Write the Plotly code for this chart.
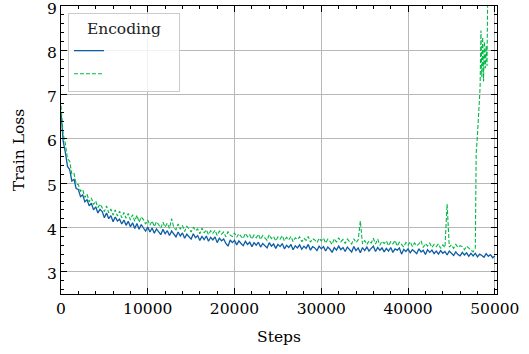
import plotly.graph_objects as go

# ---- data ----
blue_steps = list(range(0, 50001, 250))
blue_loss = [
    6.60, 5.95, 5.70, 5.38, 5.31, 5.05, 5.09, 4.88, 4.86, 4.70,
    4.74, 4.58, 4.63, 4.49, 4.55, 4.40, 4.47, 4.33, 4.41, 4.36,
    4.22, 4.33, 4.20, 4.27, 4.13, 4.24, 4.15, 4.19, 4.08, 4.17,
    4.05, 4.14, 4.02, 4.11, 3.98, 4.09, 3.96, 4.07, 3.99, 3.92,
    4.01, 3.90, 3.99, 3.87, 3.97, 3.91, 3.84, 3.96, 3.86, 3.93,
    3.82, 3.92, 3.85, 3.79, 3.90, 3.81, 3.88, 3.76, 3.85, 3.80,
    3.74, 3.86, 3.77, 3.82, 3.71, 3.80, 3.73, 3.81, 3.69, 3.78,
    3.72, 3.79, 3.66, 3.76, 3.70, 3.74, 3.64, 3.58, 3.72, 3.66,
    3.71, 3.61, 3.70, 3.64, 3.59, 3.69, 3.62, 3.67, 3.57, 3.66,
    3.60, 3.67, 3.56, 3.64, 3.59, 3.54, 3.66, 3.58, 3.63, 3.53,
    3.62, 3.57, 3.64, 3.52, 3.60, 3.55, 3.62, 3.50, 3.59, 3.54,
    3.61, 3.51, 3.58, 3.53, 3.62, 3.49, 3.57, 3.54, 3.48, 3.58,
    3.52, 3.57, 3.47, 3.56, 3.51, 3.44, 3.55, 3.49, 3.58, 3.50,
    3.55, 3.46, 3.56, 3.50, 3.45, 3.57, 3.48, 3.54, 3.43, 3.55,
    3.48, 3.56, 3.47, 3.53, 3.58, 3.46, 3.55, 3.49, 3.54, 3.45,
    3.53, 3.47, 3.55, 3.44, 3.52, 3.49, 3.54, 3.40, 3.51, 3.46,
    3.52, 3.43, 3.50, 3.46, 3.41, 3.52, 3.45, 3.49, 3.39, 3.50,
    3.44, 3.49, 3.41, 3.47, 3.40, 3.48, 3.42, 3.46, 3.38, 3.47,
    3.42, 3.37, 3.45, 3.39, 3.36, 3.44, 3.38, 3.43, 3.35, 3.42,
    3.36, 3.42, 3.34, 3.40, 3.37, 3.33, 3.41, 3.35, 3.39, 3.32,
    3.36,
]

green_steps = list(range(0, 47751, 250)) + [
    47850, 48000, 48150, 48300, 48400, 48500, 48600, 48700,
    48800, 48900, 49000, 49100, 49200,
]
green_loss = [
    6.75, 6.10, 5.90, 5.55, 5.50, 5.20, 5.22, 4.98, 4.97, 4.82,
    4.86, 4.68, 4.76, 4.58, 4.67, 4.52, 4.60, 4.45, 4.53, 4.44,
    4.36, 4.49, 4.33, 4.42, 4.28, 4.40, 4.26, 4.37, 4.22, 4.34,
    4.21, 4.32, 4.17, 4.29, 4.14, 4.28, 4.12, 4.24, 4.18, 4.08,
    4.17, 4.05, 4.15, 4.02, 4.13, 4.07, 3.99, 4.12, 4.01, 4.10,
    3.98, 4.20, 4.00, 3.95, 4.08, 3.96, 4.05, 3.91, 4.03, 3.97,
    3.90, 4.01, 3.93, 3.97, 3.86, 3.99, 3.88, 3.95, 3.84, 3.93,
    3.87, 3.94, 3.82, 3.92, 3.85, 3.90, 3.79, 3.91, 3.83, 3.80,
    3.88, 3.78, 3.86, 3.80, 3.75, 3.87, 3.79, 3.84, 3.74, 3.83,
    3.77, 3.85, 3.73, 3.82, 3.76, 3.71, 3.84, 3.75, 3.80, 3.70,
    3.79, 3.74, 3.82, 3.70, 3.78, 3.72, 3.80, 3.68, 3.77, 3.73,
    3.79, 3.68, 3.76, 3.71, 3.80, 3.67, 3.75, 3.72, 3.66, 3.76,
    3.70, 3.76, 3.65, 3.74, 3.69, 3.62, 3.75, 3.67, 3.77, 3.68,
    3.73, 3.64, 3.74, 3.68, 3.63, 3.75, 3.66, 3.72, 4.15, 3.63,
    3.71, 3.62, 3.70, 3.65, 3.76, 3.63, 3.74, 3.60, 3.69, 3.64,
    3.70, 3.59, 3.68, 3.63, 3.71, 3.58, 3.67, 3.62, 3.56, 3.66,
    3.60, 3.68, 3.57, 3.65, 3.59, 3.63, 3.70, 3.55, 3.64, 3.58,
    3.65, 3.55, 3.62, 3.57, 3.63, 3.53, 3.61, 3.55, 4.53, 3.56,
    3.61, 3.53, 3.62, 3.55, 3.59, 3.57, 3.50, 3.58, 3.54, 3.48,
    3.45, 3.53,
    5.68, 6.10, 6.60, 7.15, 8.45, 7.40, 8.30, 7.30, 8.20, 7.60,
    8.10, 7.65, 9.80,
]

x_ticks = [0, 10000, 20000, 30000, 40000, 50000]
y_ticks = [3, 4, 5, 6, 7, 8, 9]

BLUE = "#0C5DA5"
GREEN = "#00B945"
FONT = "DejaVu Serif, Liberation Serif, serif"
FS = 15.5

fig = go.Figure()
fig.add_trace(go.Scatter(
    x=blue_steps, y=blue_loss, mode="lines",
    line=dict(color=BLUE, width=1.3),
    name="\u00a0" * 13,
))
fig.add_trace(go.Scatter(
    x=green_steps, y=green_loss, mode="lines",
    line=dict(color=GREEN, width=1.1, dash="4px,2px"),
    name="\u00a0" * 13,
))

axis_common = dict(
    showline=True, linecolor="black", linewidth=1, mirror="allticks",
    ticks="inside", ticklen=6, tickwidth=1, tickcolor="black",
    showgrid=True, gridcolor="#b8b8b8", gridwidth=1,
    zeroline=False, automargin=False, ticklabeloverflow="allow",
    tickfont=dict(family=FONT, size=FS, color="black"),
)

fig.update_xaxes(
    range=[0, 50250], tickvals=x_ticks, tickformat="d",
    minor=dict(dtick=2000, tick0=0, ticks="inside", ticklen=3,
               tickcolor="black", tickwidth=1, showgrid=False),
    title=dict(text="Steps", font=dict(family=FONT, size=FS, color="black"),
               standoff=14),
    **axis_common,
)
fig.update_yaxes(
    range=[2.5, 9.003], tickvals=y_ticks, ticklabelshift=2,
    minor=dict(dtick=0.2, tick0=0, ticks="inside", ticklen=3,
               tickcolor="black", tickwidth=1, showgrid=False),
    title=dict(text="Train Loss", font=dict(family=FONT, size=FS, color="black"),
               standoff=18),
    **axis_common,
)

fig.update_layout(
    width=529, height=354,
    margin=dict(l=61, r=32, t=6, b=60, autoexpand=False),
    plot_bgcolor="white", paper_bgcolor="white",
    font=dict(family=FONT, size=FS, color="black"),
    showlegend=True,
    legend=dict(
        x=0.016, y=0.976, xanchor="left", yanchor="top",
        bgcolor="rgba(255,255,255,0.8)", bordercolor="#cccccc", borderwidth=1,
        title=dict(text="Encoding", side="top center",
                   font=dict(family=FONT, size=FS, color="#222222")),
        font=dict(family=FONT, size=FS, color="black"),
        itemwidth=30,
    ),
)

fig.write_html(
    "out.html",
    config={"displayModeBar": False},
    post_script="document.body.style.margin='0';document.body.style.overflow='hidden';",
)
